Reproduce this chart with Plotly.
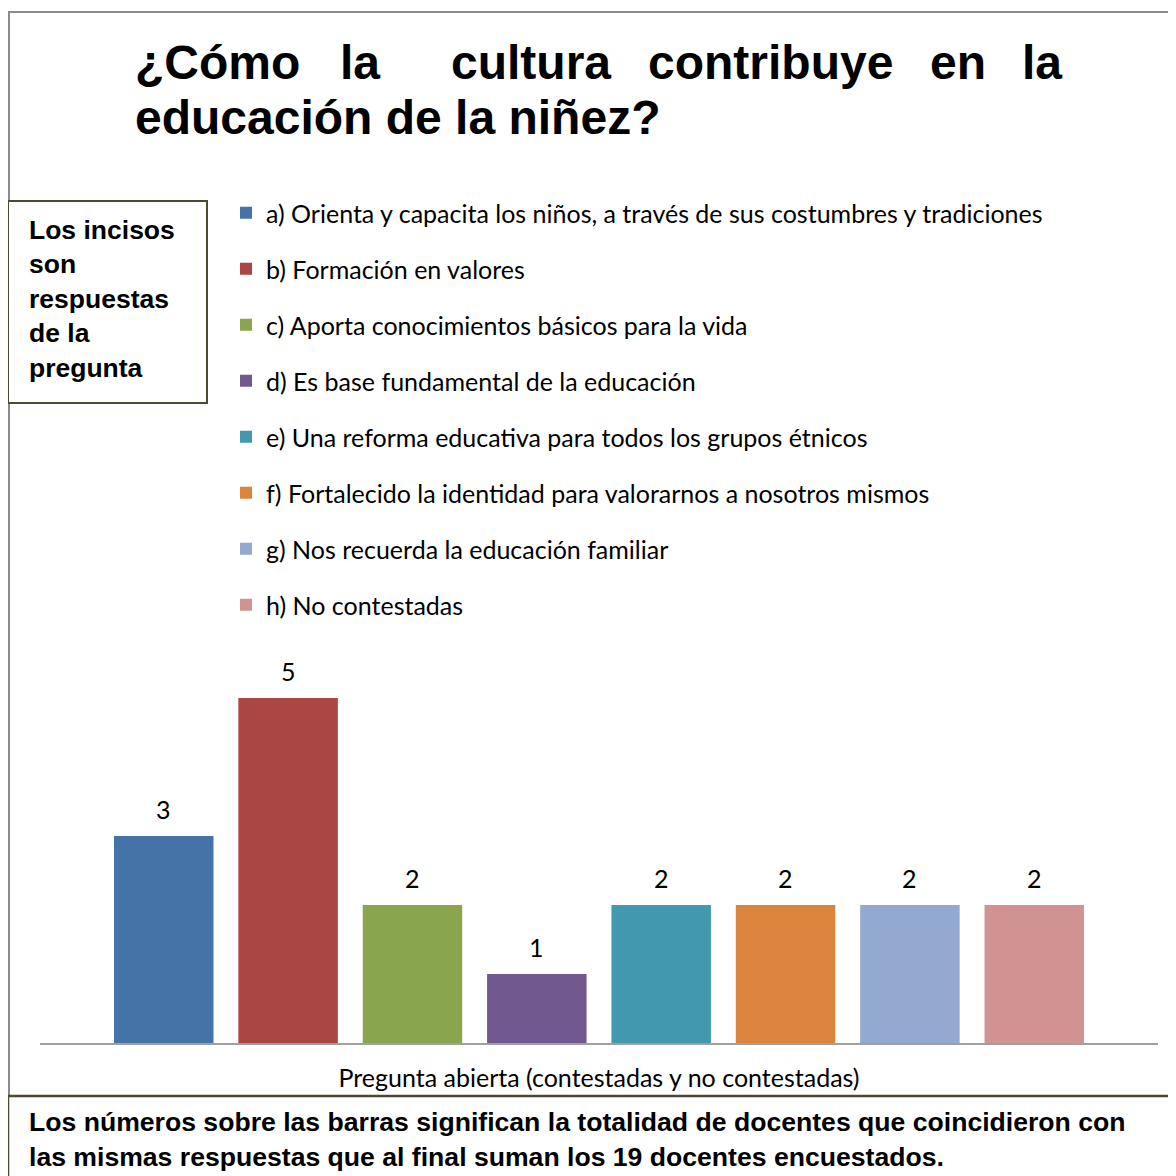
import plotly.graph_objects as go

# The page places the figure 8px from the top-left corner, so the figure is
# 1168x1168 and reference pixel positions are converted with that offset.
OFF = 8
W = H = 1176 - OFF

# ---- data ----
categories = [
    "a) Orienta y capacita los niños, a través de sus costumbres y tradiciones",
    "b) Formación en valores",
    "c) Aporta conocimientos básicos para la vida",
    "d) Es base fundamental de la educación",
    "e) Una reforma educativa para todos los grupos étnicos",
    "f) Fortalecido la identidad para valorarnos a nosotros mismos",
    "g) Nos recuerda la educación familiar",
    "h) No contestadas",
]
values = [3, 5, 2, 1, 2, 2, 2, 2]
colors = ["#4572A7", "#AA4643", "#89A54E", "#71588F",
          "#4198AF", "#DB843D", "#93A9CF", "#D19392"]
x_title = "Pregunta abierta (contestadas y no contestadas)"
title_line1 = ["¿Cómo", "la", "cultura", "contribuye", "en", "la"]
title_line1_x = [133, 338, 449, 646, 928, 1020]
title_line2 = "educación de la niñez?"
side_note = "Los incisos<br>son<br>respuestas<br>de la<br>pregunta"
bottom_note = [
    "Los números sobre las barras significan la totalidad de docentes que coincidieron con",
    "las mismas respuestas que al final suman los 19 docentes encuestados.",
]


def px(x):
    return (x - OFF) / W


def py(y):
    return 1 - (y - OFF) / H


fig = go.Figure()
slots = [c[:1] for c in categories]
for i, (name, v, col) in enumerate(zip(categories, values, colors)):
    fig.add_trace(go.Bar(
        x=[slots[i]], y=[v], name=name, marker_color=col,
        marker_line_width=0, width=0.8, legendgroup=f"g{i}",
        hoverinfo="skip",
    ))

annotations = []
# data labels
for i, v in enumerate(values):
    annotations.append(dict(
        x=slots[i], y=v, xref="x", yref="y", text=str(v), showarrow=False,
        yanchor="middle", yshift=27, font=dict(family="Lato", size=25, color="#000000"),
    ))

# title words (justified line)
for word, xw in zip(title_line1, title_line1_x):
    annotations.append(dict(
        x=px(xw), y=py(62), xref="paper", yref="paper", text=word, showarrow=False,
        xanchor="left", yanchor="middle",
        font=dict(family="Liberation Sans", size=48, color="#000000", weight="bold"),
    ))
annotations.append(dict(
    x=px(133), y=py(117), xref="paper", yref="paper", text=title_line2, showarrow=False,
    xanchor="left", yanchor="middle",
    font=dict(family="Liberation Sans", size=48, color="#000000", weight="bold"),
))
# side note
annotations.append(dict(
    x=px(27), y=py(299), xref="paper", yref="paper", text=side_note, showarrow=False,
    xanchor="left", yanchor="middle", align="left",
    font=dict(family="Liberation Sans", size=26.5, color="#000000", weight="bold"),
))
# bottom note
for txt, yy in zip(bottom_note, [1122, 1157]):
    annotations.append(dict(
        x=px(27), y=py(yy), xref="paper", yref="paper", text=txt, showarrow=False,
        xanchor="left", yanchor="middle", align="left",
        font=dict(family="Liberation Sans", size=26.6, color="#000000", weight="bold"),
    ))

shapes = [
    # outer chart border
    dict(type="rect", xref="paper", yref="paper", x0=px(9), x1=px(1200), y0=py(1097), y1=py(12),
         line=dict(color="#8a8a8a", width=2), fillcolor="rgba(0,0,0,0)", layer="below"),
    # side box
    dict(type="rect", xref="paper", yref="paper", x0=px(8), x1=px(207), y0=py(403), y1=py(201),
         line=dict(color="#4d4932", width=2), fillcolor="#ffffff", layer="below"),
    # bottom box
    dict(type="rect", xref="paper", yref="paper", x0=px(8), x1=px(1200), y0=py(1200), y1=py(1096),
         line=dict(color="#4d4932", width=2.5), fillcolor="#ffffff", layer="above"),
]

fig.update_layout(
    width=W, height=H,
    margin=dict(l=0, r=0, t=0, b=0),
    paper_bgcolor="#ffffff", plot_bgcolor="#ffffff",
    barmode="group",
    showlegend=True,
    legend=dict(
        x=px(226), y=py(190), xanchor="left", yanchor="top",
        font=dict(family="Lato", size=25, color="#000000"),
        tracegroupgap=20.5, bgcolor="rgba(0,0,0,0)", borderwidth=0,
        traceorder="grouped",
    ),
    xaxis=dict(
        domain=[px(40), px(1158)], range=[-0.995, 7.995],
        showticklabels=False, ticks="", showgrid=False, zeroline=False,
        showline=True, linecolor="#a0a0a0", linewidth=2,
        title=dict(text=x_title, standoff=25, font=dict(family="Lato", size=25, color="#000000")),
        fixedrange=True,
    ),
    yaxis=dict(
        domain=[py(1043), py(629)], range=[0, 6],
        visible=False, showgrid=False, zeroline=False, fixedrange=True,
    ),
    annotations=annotations,
    shapes=shapes,
)

fig.write_html("out.html")
